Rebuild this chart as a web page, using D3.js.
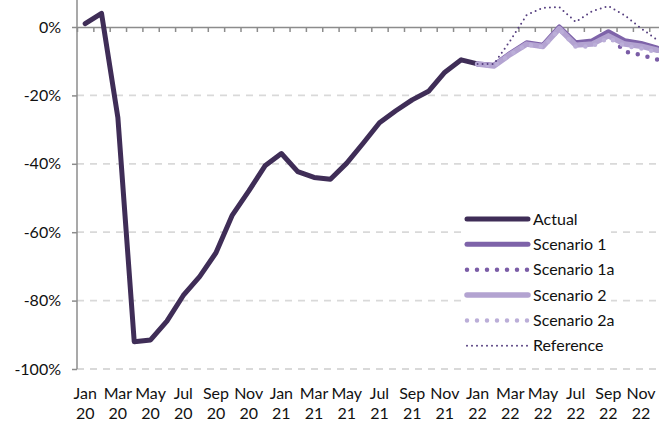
<!DOCTYPE html>
<html>
<head>
<meta charset="utf-8">
<script src="https://cdn.jsdelivr.net/npm/d3@7"></script>
<style>
  html, body { margin: 0; padding: 0; background: #fff; overflow: hidden; }
  svg text { font-family: Lato, "Open Sans", sans-serif; fill: #111; }
</style>
</head>
<body>
<svg id="chart" width="659" height="423"></svg>
<script>
// ---- data -------------------------------------------------------------
const monthNames = ["Jan","Feb","Mar","Apr","May","Jun","Jul","Aug","Sep","Oct","Nov","Dec"];
const yearLabels = ["20","21","22"];
const categories = yearLabels.flatMap(yr => monthNames.map(m => m + " " + yr));

// % change, Jan 20 .. Jan 22
const actual = [1, 4, -26.5, -92, -91.5, -86, -78.5, -73, -66, -55, -48, -40.6,
                -37, -42.3, -44, -44.5, -39.8, -34, -28, -24.5, -21.3, -18.8, -13.2, -9.6,
                -10.8];
// Jan 22 .. Dec 22
const scenario1  = [-10.8, -11.2, -7.7, -4.6, -5.3,  0.0, -4.6, -4.1, -1.4, -4.0, -4.8, -6.2];
const scenario1a = [-10.8, -11.2, -7.8, -4.8, -5.5, -0.3, -4.8, -4.5, -2.3, -7.2, -8.2, -9.5];
const scenario2  = [-10.8, -11.4, -8.0, -5.0, -5.7, -0.5, -5.3, -5.0, -2.6, -5.0, -5.6, -6.8];
const scenario2a = [-10.8, -11.4, -8.1, -5.1, -5.9, -0.7, -5.8, -5.6, -3.2, -5.5, -6.3, -7.4];
const reference  = [-10.8, -10.8, -4.0, 3.5, 5.6, 5.8, 1.5, 4.6, 6.1, 3.4, -0.4, -3.8];

const yTicks = [0, -20, -40, -60, -80, -100];
const forecastStart = 24; // Jan 22

// ---- scales -------------------------------------------------------------
const svg = d3.select("#chart");
const left = 77, step = 16.35;
const x = d3.scaleBand().domain(categories).range([left, left + categories.length * step])
            .paddingInner(0).paddingOuter(0);
const cx = c => x(c) + x.bandwidth() / 2;
const xb = d3.scaleLinear().domain([0, categories.length]).range([left, left + categories.length * step]);
const y = d3.scaleLinear().domain([-100, 0]).range([369, 27]);

const axisColor = "#8c8c8c";

// ---- gridlines ----------------------------------------------------------
svg.append("g").selectAll("line")
  .data(yTicks.filter(d => d !== 0))
  .join("line")
  .attr("x1", left).attr("x2", xb(categories.length))
  .attr("y1", d => y(d)).attr("y2", d => y(d))
  .attr("stroke", "#d9d9d9").attr("stroke-width", 1.8)
  .attr("stroke-dasharray", "7,6");

// ---- y axis -------------------------------------------------------------
const yAxis = svg.append("g").attr("transform", `translate(${left},0)`)
  .call(d3.axisLeft(y).tickValues(yTicks).tickFormat(d => d + "%")
        .tickSize(5).tickSizeOuter(0).tickPadding(11));
yAxis.select(".domain").remove();
yAxis.selectAll(".tick line").attr("stroke", axisColor).attr("stroke-width", 1.5);
yAxis.selectAll(".tick text").attr("font-size", 16).style("font-family", "Lato, sans-serif").attr("fill", "#111");
svg.append("line").attr("x1", left).attr("x2", left).attr("y1", 0).attr("y2", y(-100))
  .attr("stroke", axisColor).attr("stroke-width", 1.5);

// ---- category axis along 0% ----------------------------------------------
const xAxis = svg.append("g").attr("transform", `translate(0,${y(0)})`)
  .call(d3.axisBottom(xb).tickValues(d3.range(0, categories.length + 1))
        .tickSize(5).tickSizeOuter(0).tickFormat(""));
xAxis.select(".domain").attr("stroke", axisColor).attr("stroke-width", 1.5);
xAxis.selectAll(".tick line").attr("stroke", axisColor).attr("stroke-width", 1.5);

// two-line month / year labels, every second month
const labelG = svg.append("g");
const lbl = labelG.selectAll("text")
  .data(categories.filter((c, i) => i % 2 === 0))
  .join("text")
  .attr("text-anchor", "middle")
  .attr("font-size", 16);
lbl.append("tspan").attr("x", d => cx(d)).attr("y", 399).text(d => d.split(" ")[0]);
lbl.append("tspan").attr("x", d => cx(d)).attr("y", 419).text(d => d.split(" ")[1]);

// ---- series ---------------------------------------------------------------
const series = [
  { name: "Actual",      values: actual,     offset: 0,             color: "#3f2d57", width: 5,   dash: null },
  { name: "Scenario 1",  values: scenario1,  offset: forecastStart, color: "#7e63a9", width: 5,   dash: null },
  { name: "Scenario 1a", values: scenario1a, offset: forecastStart, color: "#7a5ca6", width: 4.5, dash: "0,10" },
  { name: "Scenario 2",  values: scenario2,  offset: forecastStart, color: "#b3a3d1", width: 5.5, dash: null },
  { name: "Scenario 2a", values: scenario2a, offset: forecastStart, color: "#bbaed8", width: 4.5, dash: "0,10" },
  { name: "Reference",   values: reference,  offset: forecastStart, color: "#574080", width: 2,   dash: "0,5" }
];

const lineGen = off => d3.line()
  .x((d, i) => cx(categories[off + i]))
  .y(d => y(d));

svg.append("g").selectAll("path")
  .data(series)
  .join("path")
  .attr("d", s => lineGen(s.offset)(s.values))
  .attr("fill", "none")
  .attr("stroke", s => s.color)
  .attr("stroke-width", s => s.width)
  .attr("stroke-linejoin", "round")
  .attr("stroke-linecap", "round")
  .attr("stroke-dasharray", s => s.dash);

// ---- legend -------------------------------------------------------------
const legend = svg.append("g");
legend.append("rect").attr("x", 464).attr("y", 205).attr("width", 147).attr("height", 153).attr("fill", "#fff");
const rows = legend.selectAll("g.row").data(series).join("g").attr("class", "row")
  .attr("transform", (d, i) => `translate(0,${219 + i * 25.35})`);
rows.append("line").attr("x1", 467).attr("x2", 528).attr("y1", 0).attr("y2", 0)
  .attr("stroke", s => s.color).attr("stroke-width", s => s.width)
  .attr("stroke-linecap", "round").attr("stroke-dasharray", s => s.dash);
rows.append("text").attr("x", 533).attr("y", 0).attr("dy", "0.35em")
  .attr("font-size", 16).text(s => s.name);
</script>
</body>
</html>
